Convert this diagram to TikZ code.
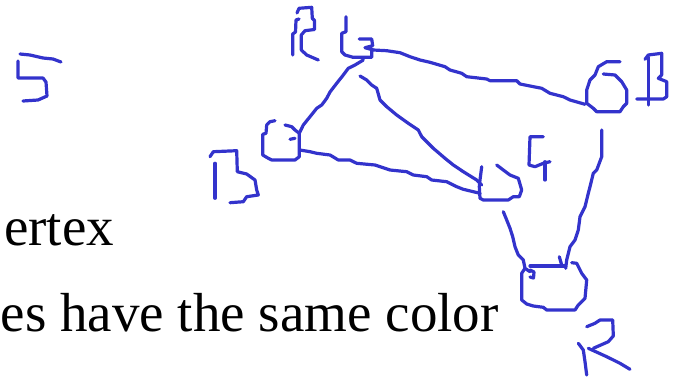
\documentclass[tikz,border=0pt]{standalone}
\usepackage{fontspec}
\setmainfont{Liberation Serif}
\begin{document}
\begin{tikzpicture}[x=1pt,y=-1pt,
  ink/.style={draw={rgb,255:red,51;green,51;blue,204}, line width=3.2pt, line cap=round, line join=round},
  slidetext/.style={anchor=base west, inner sep=0pt, font=\fontsize{55}{64}\selectfont}]
\useasboundingbox (0,0) rectangle (677,378);
% slide text
\node[slidetext] (t1) at (4,245) {ertex};
\node[slidetext] (t2) at (0.5,331) {es have the same color};
% letter 5
\draw[ink] (20,54) -- (30,55) -- (43,58) -- (53,59) -- (61,62);
\draw[ink] (18,61) -- (18,78) -- (43,78) -- (46,82) -- (47,96) -- (38,100) -- (23,101);
% letter R (top)
\draw[ink] (292.7,55) -- (292.7,34) -- (295.5,32) -- (296,20) -- (299,19);
\draw[ink] (297,13) -- (299,8.3) -- (311.7,7.3) -- (312.3,18.3) -- (314.5,20.5) -- (314.5,29.5) -- (305,30.7) -- (301.3,35) -- (301.3,50) -- (306.7,55) -- (318.3,60);
% node G (top)
\draw[ink] (346,16.7) -- (346,31.7) -- (341.7,33.3) -- (341.7,51.7) -- (345,55) -- (353,57.3) -- (371.7,57.3) -- (371.7,50);
\draw[ink] (359.3,39) -- (371.7,39) -- (372.7,45.7) -- (365,47.7) -- (373.3,50);
\coordinate (gR) at (373.3,50);
\coordinate (gL) at (363.3,60);
\coordinate (gM) at (360,76);
% node 6 (right) with letter B
\draw[ink] (620,61.7) -- (606.7,61.7) -- (598.3,66.7) -- (595,75) -- (590,80) -- (586.7,90) -- (586.7,103.3) -- (593.3,108.3) -- (596.7,111.7) -- (620,111.7) -- (623.3,106.7) -- (626.7,103.3) -- (626.7,90) -- (621.7,81.7) -- (615,75) -- (603.3,74);
\coordinate (bL) at (585,104.3);
\coordinate (bD) at (601.7,130);
\draw[ink] (648.3,57) -- (648.3,105);
\draw[ink] (645,59.3) -- (648.3,55) -- (661.7,53.3) -- (661.7,75) -- (658.3,78.3) -- (666.7,81.7) -- (666.7,96.7) -- (663.3,99) -- (636.7,99);
% letter G (middle right)
\draw[ink] (543.3,136.7) -- (530,136.7) -- (529,165) -- (535,166.7) -- (543.3,163.3) -- (550,161.7);
\draw[ink] (545,161.7) -- (545,180);
% node left (C shape)
\draw[ink] (275,120.7) -- (270,121.7) -- (266.7,125) -- (266,133.3) -- (262.7,134.3) -- (262.7,155) -- (268.3,158.3) -- (271.7,160) -- (295,160) -- (299.3,156.7) -- (299.3,133.3);
\draw[ink] (285,125) -- (291.7,126.7) -- (295,130) -- (299.3,133.3);
\draw[ink] (290,139.3) -- (295,138.3);
\coordinate (cT) at (299.3,133.3);
\coordinate (cR) at (300,150);
% letter B (left)
\draw[ink] (210,156.7) -- (213.3,151.7) -- (236.7,150.7) -- (237.3,171.7) -- (246.7,174) -- (255,180) -- (256.7,190) -- (258.3,195) -- (246.7,196.7) -- (243.3,201.7) -- (230,202.7);
\draw[ink] (215,163.3) -- (215,198.3);
% middle node
\draw[ink] (481.7,166.7) -- (480,180) -- (479.3,186.7) -- (480,198.3) -- (483.3,200) -- (508.3,200) -- (513.3,196.7) -- (519.3,196.7) -- (521.7,190) -- (518.3,178.3) -- (510,175) -- (503.3,170) -- (496.7,165);
\coordinate (mL) at (480,193.3);
\coordinate (mT) at (481.7,185);
\coordinate (mD) at (503.3,211.7);
% bottom node
\draw[ink] (530,266) -- (565,266);
\draw[ink] (525,268.3) -- (521.7,273.3) -- (521.7,300) -- (526.7,304) -- (533.3,306) -- (543.3,307.3) -- (546.7,310) -- (575,310) -- (578.3,305) -- (585,298.3) -- (586.7,280) -- (581.7,273.3) -- (576.7,263.3) -- (571.7,262.7);
\draw[ink] (530,270) -- (534,272) -- (533.5,278) -- (530,277);
\draw[ink] (559.3,256.7) -- (561.7,265);
\coordinate (dL) at (530,271.7);
\coordinate (dR) at (565.7,268.3);
% letter R (bottom)
\draw[ink] (586.7,326.7) -- (595,323.3) -- (600,320) -- (612.7,320) -- (613.3,336) -- (608.3,341.7) -- (593.3,348.3);
\draw[ink] (588.3,348.3) -- (606.7,356.7) -- (620,363.3) -- (630,369.3);
\draw[ink] (578.3,343.3) -- (583.3,350) -- (585,361.7) -- (586.7,375);
% edges
\draw[ink] (gR) -- (386.7,50.7) -- (400,52.7) -- (410,56.7) -- (420,60) -- (430,62.3) -- (445,66.7) -- (450,70) -- (461.7,73.3) -- (466.7,76.7) -- (486.7,79) -- (490,80.7) -- (516.7,80.7) -- (520,84) -- (530,86) -- (541.7,88.3) -- (550,93.3) -- (563.3,96.7) -- (570,100) -- (bL);
\draw[ink] (cT) -- (303.3,125) -- (310,116.7) -- (316.7,108.3) -- (321.7,105) -- (326.7,98.3) -- (330,92) -- (336.7,83.3) -- (343.3,75) -- (348.3,68.3) -- (355,65) -- (gL);
\draw[ink] (gM) -- (366.7,80) -- (371.7,85) -- (376.7,88.3) -- (380,100) -- (386.7,106.7) -- (396.7,115) -- (408.3,123.3) -- (418.3,130) -- (421.7,136.7) -- (426.7,141.7) -- (433.3,148.3) -- (445,158.3) -- (453.3,165) -- (463.3,171.7) -- (476.7,180) -- (mT);
\draw[ink] (cR) -- (310,151.7) -- (316.7,153.3) -- (330,155) -- (338.3,160) -- (350,160) -- (356.7,163.3) -- (375,165) -- (390,170) -- (406.7,171.7) -- (413.3,175) -- (426.7,176.7) -- (431.7,180) -- (446.7,181.7) -- (456.7,186.7) -- (463.3,189.3) -- (mL);
\draw[ink] (mD) -- (506.7,220) -- (510,228.3) -- (512.7,236.7) -- (515,246.7) -- (518.3,255) -- (523.3,260) -- (525,268.3) -- (dL);
\draw[ink] (bD) -- (601.7,156.7) -- (596.7,170) -- (593.3,173.3) -- (590,186.7) -- (588.3,193.3) -- (585,206.7) -- (580,216.7) -- (578.3,230) -- (575,240) -- (570,246.7) -- (566.7,260) -- (dR);
\end{tikzpicture}
\end{document}
